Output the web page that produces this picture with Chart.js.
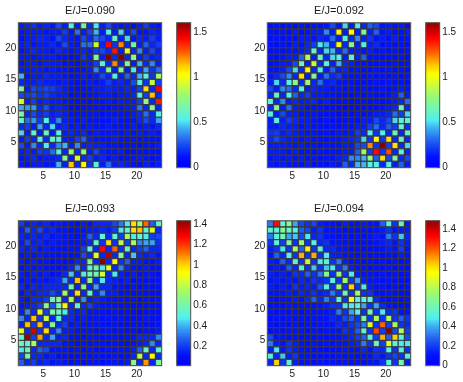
<!DOCTYPE html>
<html lang="en">
<head>
<meta charset="UTF-8">
<title>E/J maps</title>
<style>
  html, body { margin: 0; padding: 0; background: #fff; }
  body { width: 463px; height: 382px; position: relative; overflow: hidden; }
  .box { position: absolute; }
</style>
</head>
<body>
<script src="https://cdn.jsdelivr.net/npm/chart.js"></script>
<script>
// values are in hundredths, rows from the top of the map (y=23) down to y=1
const map090 = [
[10,14,16,12,14,8,20,10,50,10,62,14,48,10,22,10,8,12,6,10,18,10,8],
[8,10,12,10,8,12,10,18,8,28,12,20,42,12,52,12,45,10,22,8,8,14,10],
[6,12,10,14,10,8,20,14,10,8,22,14,28,20,14,55,12,45,8,14,10,18,10],
[10,14,8,12,10,14,8,22,10,8,28,28,88,14,140,16,120,14,62,10,26,14,18],
[8,10,14,10,12,8,14,10,8,10,14,12,18,22,14,135,12,95,14,35,12,20,12],
[10,12,8,12,10,12,8,8,6,8,16,12,70,12,160,14,158,14,72,12,18,10,14],
[8,10,12,8,12,10,10,6,8,6,10,12,18,50,14,120,14,70,12,42,14,35,12],
[10,12,10,12,8,10,8,8,6,6,8,10,35,14,70,12,70,12,48,14,38,16,28],
[42,8,12,10,14,10,12,8,6,8,10,8,12,22,14,50,12,25,14,42,50,16,78],
[14,12,10,14,10,12,8,10,8,6,8,10,8,12,18,12,14,12,20,50,16,85,18],
[65,12,22,18,22,18,14,10,8,6,8,8,12,10,14,10,12,14,12,18,105,14,142],
[20,18,20,16,18,14,12,10,6,8,6,8,8,10,10,8,10,10,14,50,18,112,14],
[90,10,18,12,14,10,12,8,8,6,8,6,8,8,10,8,10,12,10,18,72,14,135],
[38,36,36,14,24,12,14,10,6,6,6,8,8,8,8,8,8,10,12,32,14,72,14],
[65,14,22,14,18,12,14,10,8,8,8,8,8,6,8,8,8,8,10,14,30,14,50],
[55,30,36,18,50,14,35,10,12,8,10,8,8,8,8,10,8,8,8,14,22,14,38],
[14,18,12,38,14,45,12,14,8,12,8,10,8,8,10,8,8,8,10,8,12,8,14],
[45,10,55,12,62,10,55,12,14,10,14,8,10,8,8,8,8,10,8,10,8,12,8],
[12,18,14,50,14,60,50,12,10,18,26,10,8,8,8,10,8,8,8,8,8,8,8],
[22,12,35,14,48,14,35,40,12,35,12,14,10,10,8,8,6,8,8,6,8,8,10],
[10,14,12,18,16,30,50,14,75,14,72,12,22,10,8,8,10,6,6,8,6,8,6],
[8,10,14,8,12,10,14,72,12,92,14,18,12,14,8,10,6,8,8,10,8,6,8],
[10,8,12,10,8,12,42,12,112,14,102,16,50,12,30,10,14,10,8,6,10,8,12]
];
const map092 = [
[6,8,6,8,6,8,6,8,6,8,20,8,45,10,48,14,25,20,8,10,8,10,6],
[8,6,8,6,10,6,8,10,12,35,10,100,12,100,10,65,12,25,8,10,6,8,10],
[6,8,6,8,6,10,12,8,14,10,30,12,50,14,35,10,16,8,10,6,10,6,8],
[8,6,8,6,10,8,14,18,48,40,14,98,14,70,12,50,10,14,6,8,6,8,6],
[6,8,6,8,8,12,14,60,14,45,40,14,30,10,12,8,10,6,8,6,8,6,8],
[8,6,8,10,12,25,80,12,60,14,45,50,12,50,10,25,8,8,6,8,6,8,6],
[6,8,10,12,22,62,12,85,14,50,12,40,14,12,8,8,6,6,8,6,8,6,8],
[8,8,12,22,45,14,100,14,50,12,25,12,14,8,8,6,6,8,6,8,6,8,6],
[8,14,22,35,14,105,12,70,12,30,14,18,8,8,8,6,8,6,8,6,8,6,8],
[12,45,14,50,70,14,75,14,30,10,14,8,8,8,6,6,6,8,6,8,6,8,6],
[20,12,35,30,14,50,12,14,10,12,8,8,6,8,6,8,6,6,8,6,8,10,8],
[14,60,14,50,25,14,18,10,12,8,8,6,6,6,8,6,8,6,6,8,10,25,10],
[55,14,35,12,14,12,12,14,8,10,6,6,6,6,6,8,6,8,6,8,12,14,30],
[14,70,12,30,10,10,8,8,8,6,6,6,4,6,6,6,6,6,8,10,14,55,14],
[50,12,20,10,12,8,8,8,6,6,6,4,6,6,8,6,8,10,10,14,30,18,45],
[12,50,10,18,14,12,10,8,6,8,6,6,6,8,6,10,10,22,14,20,45,50,55],
[10,12,14,10,12,8,10,8,8,6,8,6,8,8,12,12,18,30,14,25,18,55,16],
[16,18,12,14,10,12,8,8,6,8,6,8,8,10,18,14,50,16,50,14,60,14,55],
[14,20,14,10,12,8,10,8,8,6,8,8,10,14,16,45,16,100,16,105,14,60,14],
[10,12,10,12,8,10,8,8,6,8,6,8,10,12,22,20,120,16,160,18,105,14,45],
[12,10,12,8,10,8,8,6,8,6,8,8,12,10,25,75,18,140,16,125,14,55,14],
[8,12,8,10,8,10,8,8,6,8,8,10,14,35,35,40,75,25,105,22,65,14,20],
[10,8,10,8,8,8,10,6,8,6,10,8,25,14,42,40,50,50,14,50,12,25,12]
];
const map093 = [
[18,10,14,10,12,8,10,8,8,6,10,8,12,14,14,20,28,45,95,70,110,25,50],
[10,25,12,20,10,12,8,8,6,8,8,10,10,12,10,18,45,50,95,100,50,85,14],
[12,10,14,10,12,8,10,8,8,6,10,25,12,50,14,50,18,70,45,50,45,18,20],
[10,20,10,14,8,10,8,8,6,8,10,14,50,16,95,16,75,18,70,30,35,35,16],
[12,10,12,8,10,8,8,6,8,8,18,50,14,125,14,110,16,55,14,18,25,12,14],
[8,10,8,10,8,8,6,8,6,8,20,14,85,14,135,14,62,14,40,12,10,12,8],
[10,8,10,8,8,6,8,6,8,14,12,60,14,143,14,90,16,25,10,10,8,8,10],
[8,10,8,10,8,8,6,8,12,30,12,50,55,45,85,14,30,12,8,8,10,8,8],
[10,8,10,8,10,6,8,12,40,12,45,55,55,80,14,45,10,8,10,6,8,8,6],
[8,10,8,10,8,10,12,35,14,100,14,65,14,45,12,10,8,10,6,8,6,8,8],
[12,8,12,10,12,12,14,14,55,14,65,12,35,12,14,8,8,6,8,6,8,6,8],
[8,12,10,14,14,20,14,70,14,95,12,50,12,30,10,10,6,8,6,8,6,6,6],
[10,8,12,14,18,50,62,14,70,12,30,10,12,10,8,8,8,6,8,6,8,6,8],
[8,10,12,18,65,22,55,90,14,48,12,18,10,8,8,6,6,6,6,6,6,6,6],
[10,30,12,85,18,60,50,45,12,10,12,8,8,8,6,8,6,8,6,4,6,8,6],
[30,14,100,16,80,14,50,14,14,8,10,8,8,6,8,6,8,6,6,6,8,6,6],
[14,100,18,100,14,65,14,18,8,10,8,8,8,8,6,8,6,6,6,8,6,6,8],
[85,14,130,16,95,12,30,10,10,8,8,8,6,8,8,6,8,6,8,6,8,8,10],
[50,140,18,105,14,35,10,14,8,8,6,8,8,6,8,8,6,8,8,12,12,14,30],
[55,50,70,12,14,14,12,8,8,6,8,6,8,8,6,6,6,6,8,10,14,30,14],
[45,55,14,25,20,8,8,8,6,8,6,8,6,6,8,6,8,8,10,25,55,14,50],
[20,55,14,12,8,10,6,6,4,6,8,6,8,6,6,8,6,8,14,75,14,90,14],
[25,14,18,10,12,8,10,8,6,8,6,8,8,6,8,8,8,10,62,14,105,14,60]
];
const map094 = [
[30,130,55,65,35,20,14,20,10,8,8,6,10,8,8,10,8,8,25,50,14,55,10],
[50,50,65,55,50,25,20,10,14,8,8,8,6,8,6,8,6,8,10,14,8,10,10],
[30,50,60,35,40,20,45,12,16,8,8,6,8,6,8,6,8,10,8,30,14,40,12],
[14,50,18,65,16,70,16,50,12,14,8,8,6,8,6,8,6,8,10,12,8,14,10],
[10,14,45,16,75,25,95,16,50,12,12,8,8,6,8,6,6,6,8,10,8,18,8],
[8,25,12,50,16,105,16,105,14,45,10,10,8,8,6,8,6,8,6,8,6,10,8],
[10,8,25,12,50,16,80,16,45,50,14,30,10,8,8,6,8,6,8,6,8,6,8],
[8,10,8,25,12,50,16,40,14,40,45,14,30,10,8,8,6,8,6,8,6,8,6],
[10,8,10,8,14,12,25,14,30,65,14,70,14,45,10,8,8,6,8,6,8,6,8],
[8,10,8,10,8,12,10,14,12,14,50,14,70,14,35,10,8,8,6,8,6,8,6],
[10,8,10,8,14,10,12,10,22,50,14,70,14,100,14,45,10,8,8,6,8,6,8],
[8,8,8,10,8,12,10,14,10,12,30,14,55,14,70,14,14,8,6,8,6,6,6],
[8,6,8,8,10,8,12,25,12,30,14,50,14,90,50,50,50,12,8,6,8,6,8],
[6,6,6,8,6,8,6,8,8,10,14,14,45,45,50,35,14,35,12,8,6,6,6],
[8,6,8,6,8,6,8,8,8,8,10,30,14,35,50,14,60,14,45,12,14,8,8],
[6,8,6,8,6,8,6,8,8,8,12,10,20,25,14,60,14,75,16,75,14,25,14],
[8,6,8,6,8,6,8,6,8,8,8,12,10,14,20,30,85,16,115,18,75,16,12],
[6,8,6,8,8,8,6,8,6,8,8,8,14,12,25,50,16,120,18,148,20,75,18],
[20,8,8,6,8,6,8,6,8,6,8,8,10,12,18,25,50,18,105,25,100,50,20],
[30,10,8,14,10,8,6,8,6,8,6,8,8,10,12,30,14,55,18,85,50,45,45],
[10,45,8,16,10,8,6,6,6,4,6,6,8,8,8,12,8,14,12,50,16,50,14],
[50,12,40,10,14,8,8,6,6,6,6,8,6,8,6,8,8,12,8,14,20,14,50],
[12,100,14,50,10,8,8,6,8,6,8,6,8,8,8,6,8,8,14,50,14,60,10]
];

const titles = ['E/J=0.090', 'E/J=0.092', 'E/J=0.093', 'E/J=0.094'];
const axisTicks = [5, 10, 15, 20];
const barTicks090 = [0, 0.5, 1, 1.5];
const barTicks093 = [0.2, 0.4, 0.6, 0.8, 1, 1.2, 1.4];
const barTicks094 = [0, 0.2, 0.4, 0.6, 0.8, 1, 1.2, 1.4];

// left/top of each panel box, colour limits
const panels = [
  { map: map090, title: titles[0], left: 0, top: 0, clim: [0, 1.6], barTicks: barTicks090 },
  { map: map092, title: titles[1], left: 249, top: 0, clim: [0, 1.6], barTicks: barTicks090 },
  { map: map093, title: titles[2], left: 0, top: 198.3, clim: [0.008, 1.433], barTicks: barTicks093 },
  { map: map094, title: titles[3], left: 249, top: 198.3, clim: [0, 1.486], barTicks: barTicks094 }
];

const FONT = { family: '"Liberation Sans", Arial, sans-serif', size: 10 };
const INK = '#1c1c1c';
const FRAME = '#555';

// colour stops: position, r, g, b
const stops = [
  [0, 0, 0, 255],
  [0.06, 0, 20, 255],
  [0.16, 30, 90, 240],
  [0.25, 60, 170, 245],
  [0.31, 80, 240, 240],
  [0.47, 150, 250, 120],
  [0.625, 255, 255, 0],
  [0.69, 255, 200, 0],
  [0.78, 255, 90, 0],
  [0.875, 255, 0, 0],
  [1, 130, 0, 0]
];

// 64 levels, like the figure's colormap
function colourAt(t) {
  const k = Math.min(63, Math.max(0, Math.floor(t * 64)));
  const x = (k + 0.5) / 64;
  let i = 0;
  while (i < stops.length - 2 && x > stops[i + 1][0]) i++;
  const a = stops[i], b = stops[i + 1];
  const f = (x - a[0]) / (b[0] - a[0]);
  const mix = n => Math.round(a[n] + (b[n] - a[n]) * f);
  return `rgb(${mix(1)},${mix(2)},${mix(3)})`;
}

const framePlugin = {
  id: 'frame',
  afterDraw(chart) {
    const a = chart.chartArea, ctx = chart.ctx;
    ctx.save();
    ctx.strokeStyle = FRAME;
    ctx.lineWidth = 1;
    ctx.strokeRect(a.left, a.top, a.right - a.left, a.bottom - a.top);
    ctx.restore();
  }
};

function addCanvas(left, top, w, h) {
  const box = document.createElement('div');
  box.className = 'box';
  box.style.cssText = `left:${left}px;top:${top}px;width:${w}px;height:${h}px`;
  const c = document.createElement('canvas');
  box.appendChild(c);
  document.body.appendChild(box);
  return c;
}

function drawHeat(p) {
  const rows = p.map.length;
  const pts = [];
  p.map.forEach((row, i) => row.forEach((v, j) => {
    pts.push({ x: j + 1.5, y: rows - i + 0.5, v: v / 100 });
  }));
  const span = p.clim[1] - p.clim[0];
  new Chart(addCanvas(p.left, p.top, 170, 190), {
    type: 'scatter',
    data: {
      datasets: [{
        data: pts,
        pointStyle: 'rect',
        pointRadius: c => (c.chart.scales.x.width / 23 / 2) / Math.SQRT1_2,
        pointBackgroundColor: c => colourAt((c.raw.v - p.clim[0]) / span),
        pointBorderColor: 'rgba(55,55,60,0.85)',
        pointBorderWidth: 1.2
      }]
    },
    options: {
      responsive: true,
      maintainAspectRatio: false,
      animation: false,
      events: [],
      layout: { padding: { right: 8.3 } },
      plugins: {
        legend: { display: false },
        tooltip: { enabled: false },
        title: {
          display: true,
          text: p.title,
          fullSize: false,
          color: INK,
          font: { family: FONT.family, size: 11, weight: 'normal', lineHeight: 1.2 },
          padding: { top: 4.5, bottom: 5 }
        }
      },
      scales: {
        x: {
          type: 'linear', min: 1, max: 24,
          afterBuildTicks: s => { s.ticks = axisTicks.map(value => ({ value })); },
          afterFit: s => { s.height = 22.3; },
          border: { display: false },
          grid: { drawOnChartArea: false, tickLength: -2, color: FRAME },
          ticks: { color: INK, font: FONT, padding: 5, maxRotation: 0, callback: v => String(v) }
        },
        y: {
          type: 'linear', min: 1, max: 24,
          afterBuildTicks: s => { s.ticks = axisTicks.map(value => ({ value })); },
          afterFit: s => { s.width = 18.3; },
          border: { display: false },
          grid: { drawOnChartArea: false, tickLength: -2, color: FRAME },
          ticks: { color: INK, font: FONT, padding: 4, callback: v => String(v) }
        }
      }
    },
    plugins: [framePlugin]
  });
}

function drawBar(p) {
  const [lo, hi] = p.clim;
  const step = (hi - lo) / 64;
  const sets = [];
  for (let i = 0; i < 64; i++) {
    // each band runs under the next so no seams show
    sets.push({ data: [[lo + i * step, lo + (i + 2) * step]], backgroundColor: colourAt((i + 0.5) / 64), barPercentage: 1, categoryPercentage: 1 });
  }
  new Chart(addCanvas(p.left + 170, p.top, 60, 190), {
    type: 'bar',
    data: { labels: [''], datasets: sets },
    options: {
      responsive: true,
      maintainAspectRatio: false,
      animation: false,
      events: [],
      layout: { padding: { left: 6.7, top: 22.7, bottom: 22.3 } },
      plugins: { legend: { display: false }, tooltip: { enabled: false } },
      scales: {
        x: { display: false, stacked: true },
        y: {
          position: 'right',
          min: lo, max: hi,
          afterBuildTicks: s => { s.ticks = p.barTicks.map(value => ({ value })); },
          afterFit: s => { s.width = 39.3; },
          border: { display: false },
          grid: { drawOnChartArea: false, tickLength: -3, color: FRAME },
          ticks: { color: INK, font: FONT, padding: 5.5, callback: v => String(v) }
        }
      }
    },
    plugins: [framePlugin]
  });
}

panels.forEach(p => { drawHeat(p); drawBar(p); });
</script>
</body>
</html>
